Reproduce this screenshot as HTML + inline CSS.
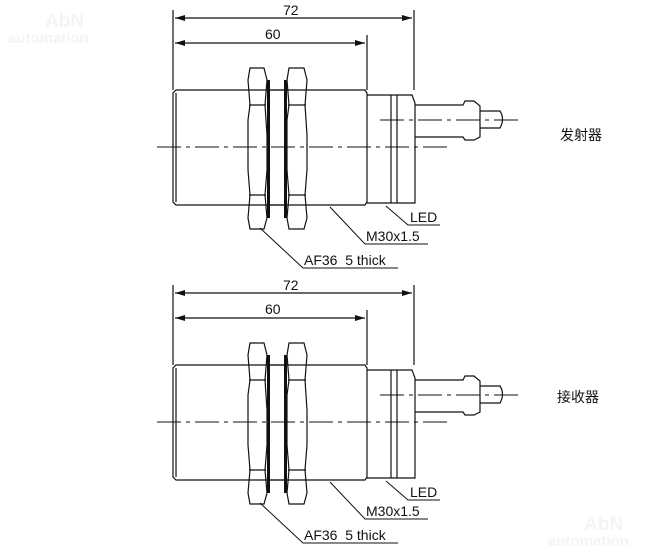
<!DOCTYPE html>
<html><head><meta charset="utf-8"><style>
html,body{margin:0;padding:0;background:#fff;width:666px;height:553px;overflow:hidden}
svg{display:block}
text{font-family:"Liberation Sans","Noto Sans CJK SC",sans-serif;fill:#111}
</style></head><body>
<svg width="666" height="553" viewBox="0 0 666 553" xmlns="http://www.w3.org/2000/svg">
<defs>
<marker id="a" viewBox="0 0 10 6" refX="10" refY="3" markerWidth="10" markerHeight="6" orient="auto-start-reverse" markerUnits="userSpaceOnUse"><path d="M0,0L10,3L0,6z" fill="#111"/></marker>
<g id="d" stroke="#111" fill="none" stroke-width="1.2">
<line x1="173" y1="10" x2="173" y2="90"/>
<line x1="414" y1="10" x2="414" y2="90"/>
<line x1="367" y1="35" x2="367" y2="90"/>
<line x1="175" y1="18" x2="412" y2="18" marker-start="url(#a)" marker-end="url(#a)"/>
<line x1="175" y1="43" x2="365" y2="43" marker-start="url(#a)" marker-end="url(#a)"/>
<path d="M176,90 L365,90 L367,93 L367,202 L365,205 L176,205 L173,202 L173,93 Z"/>
<line x1="176" y1="93" x2="176" y2="202"/>
<path d="M367,95 L412,95 L415,103 L415,203 L367,203"/>
<line x1="391" y1="95" x2="391" y2="203"/>
<line x1="397" y1="95" x2="397" y2="203"/>
<path d="M415,105 L463,105 L465,101 L474,101 L480,106 L480,137 L474,140 L465,140 L463,137 L415,137"/>
<path d="M480,111 L500,111 Q505,119 500,128 L480,128"/>
<path d="M250,68 L264,68 L267,80 L265,105 L267,135 L267,170 L265,195 L267,218 L264,229 L250,229 L248,218 L250,195 L248,170 L248,120 L250,105 L248,80 Z"/>
<line x1="249" y1="105" x2="266" y2="105"/><line x1="249" y1="195" x2="266" y2="195"/>
<path d="M289,68 L304,68 L307,80 L305,105 L307,135 L307,170 L305,195 L307,218 L304,229 L289,229 L287,218 L289,195 L287,170 L287,120 L289,105 L287,80 Z"/>
<line x1="288" y1="105" x2="306" y2="105"/><line x1="288" y1="195" x2="306" y2="195"/>
<rect x="267" y="80" width="3" height="138" fill="#111" stroke="none"/>
<rect x="284" y="80" width="3" height="138" fill="#111" stroke="none"/>
<line x1="270" y1="90" x2="284" y2="90"/><line x1="270" y1="205" x2="284" y2="205"/>
<line x1="157" y1="147" x2="450" y2="147" stroke-width="1" stroke-dasharray="24,5,4,5"/>
<line x1="380" y1="120" x2="518" y2="120" stroke-width="1" stroke-dasharray="24,5,4,5"/>
<path d="M386,206 L408,225 L440,225" stroke-width="1"/>
<path d="M330,207 L365,244 L428,244" stroke-width="1"/>
<path d="M260,228 L303,268 L398,268" stroke-width="1"/>
</g>
</defs>
<text x="45" y="27" font-size="19" font-weight="bold" style="fill:#f4f4f4">AbN</text>
<text x="8" y="43" font-size="15" font-weight="bold" style="fill:#f4f4f4">automation</text>
<text x="584" y="530" font-size="19" font-weight="bold" style="fill:#f4f4f4">AbN</text>
<text x="548" y="546" font-size="15" font-weight="bold" style="fill:#f4f4f4">automation</text>
<use href="#d"/>
<use href="#d" transform="translate(0,275)"/>
<g font-size="14">
<text x="283" y="15">72</text><text x="265" y="39">60</text>
<text x="410" y="222">LED</text><text x="366" y="241">M30x1.5</text><text x="304" y="265">AF36&#160;&#160;5 thick</text>
<text x="283" y="290">72</text><text x="265" y="314">60</text>
<text x="410" y="497">LED</text><text x="366" y="516">M30x1.5</text><text x="304" y="540">AF36&#160;&#160;5 thick</text>
<text x="560" y="140">发射器</text><text x="557" y="402">接收器</text>
</g>
</svg>
</body></html>
